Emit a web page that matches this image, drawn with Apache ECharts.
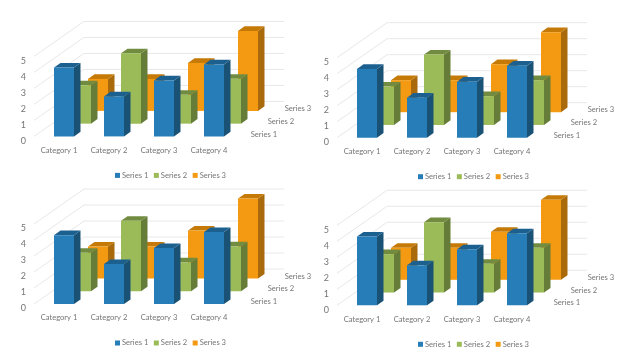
<!DOCTYPE html>
<html>
<head>
<meta charset="utf-8">
<style>
  html, body { margin: 0; padding: 0; background: #fff; }
  #main { width: 640px; height: 360px; }
</style>
<script src="https://cdn.jsdelivr.net/npm/echarts@6/dist/echarts.min.js"></script>
</head>
<body>
<div id="main"></div>
<script>
  var categories = ['Category 1', 'Category 2', 'Category 3', 'Category 4'];
  var seriesNames = ['Series 1', 'Series 2', 'Series 3'];
  var series1 = [4.3, 2.5, 3.5, 4.5];
  var series2 = [2.4, 4.4, 1.8, 2.8];
  var series3 = [2, 2, 3, 5];
  var yTicks = [0, 1, 2, 3, 4, 5];

  // front-left floor corner of each of the four charts
  var origins = [[34, 136.4], [337, 137.7], [34, 304], [337, 305.3]];

  var FONT = 'Lato, "Open Sans", sans-serif';
  var FONT_SIZE = 7.6;
  var TEXT = '#757575';
  var GRID_LINE = '#e8e8e8';
  var BAND = 50, PLOT_H = 80;
  var STEP_X = 17, STEP_Y = 12.75;   // shift from one series row to the next
  var BAR_W = 20, DEPTH_X = 6.5, DEPTH_Y = 4.6;
  var WALL_X = 50, WALL_Y = 35;

  var faces = [
    { front: '#267db7', side: '#1a5276', top: '#1c6090' },
    { front: '#9bbb59', side: '#667d3a', top: '#718c41' },
    { front: '#f39a12', side: '#a86a0a', top: '#c57a08' }
  ];

  function barRenderer(row) {
    return function (params, api) {
      var top = api.coord([api.value(0), api.value(1)]);
      var base = api.coord([api.value(0), 0]);
      var x = top[0] - 5 + row * STEP_X;
      var y1 = top[1] - row * STEP_Y;
      var y0 = base[1] - row * STEP_Y;
      var c = faces[row];
      return {
        type: 'group',
        children: [
          { type: 'polygon', shape: { points: [[x + BAR_W, y1], [x + BAR_W + DEPTH_X, y1 - DEPTH_Y], [x + BAR_W + DEPTH_X, y0 - DEPTH_Y], [x + BAR_W, y0]] }, style: { fill: c.side } },
          { type: 'polygon', shape: { points: [[x, y1], [x + DEPTH_X, y1 - DEPTH_Y], [x + BAR_W + DEPTH_X, y1 - DEPTH_Y], [x + BAR_W, y1]] }, style: { fill: c.top } },
          { type: 'rect', shape: { x: x, y: y1, width: BAR_W, height: y0 - y1 }, style: { fill: c.front } }
        ]
      };
    };
  }

  // left wall + back wall lines
  function wallRenderer(params, api) {
    var p = api.coord([0, api.value(1)]);
    var x = p[0] - BAND / 2;
    return {
      type: 'polyline',
      shape: { points: [[x, p[1]], [x + WALL_X, p[1] - WALL_Y], [x + WALL_X + BAND * 4, p[1] - WALL_Y]] },
      style: { fill: null, stroke: GRID_LINE, lineWidth: 1 }
    };
  }

  // names along the depth axis
  function depthLabelRenderer(params, api) {
    var row = params.dataIndex;
    var p = api.coord([categories.length - 1, 0]);
    return {
      type: 'text',
      x: p[0] + 41.7 + row * STEP_X,
      y: p[1] - 2.3 - row * STEP_Y,
      style: { text: seriesNames[row], fill: TEXT, font: FONT_SIZE + 'px ' + FONT, verticalAlign: 'middle' }
    };
  }

  var rows = [series1, series2, series3];
  var grid = [], xAxis = [], yAxis = [], legend = [], series = [];

  origins.forEach(function (o, k) {
    grid.push({ left: o[0], top: o[1] - PLOT_H, width: BAND * 4, height: PLOT_H });
    xAxis.push({
      gridIndex: k, type: 'category', data: categories,
      axisLine: { show: false }, axisTick: { show: false },
      axisLabel: { interval: 0, margin: 10, color: TEXT, fontFamily: FONT, fontSize: FONT_SIZE }
    });
    yAxis.push({
      gridIndex: k, type: 'value', min: 0, max: 5, interval: 1,
      splitLine: { show: false }, axisLine: { show: false }, axisTick: { show: false },
      axisLabel: { margin: 8, color: TEXT, fontFamily: FONT, fontSize: 9, verticalAlign: 'top', lineHeight: 9 }
    });
    legend.push({
      data: seriesNames, left: o[0] + 81, top: o[1] + 35,
      padding: 0, icon: 'rect', itemWidth: 5, itemHeight: 5, itemGap: 5.5,
      selectedMode: false,
      textStyle: { color: TEXT, fontFamily: FONT, fontSize: FONT_SIZE, padding: [0, 0, 0, -3] }
    });

    series.push({
      type: 'custom', name: 'walls', silent: true, xAxisIndex: k, yAxisIndex: k, z: 1,
      renderItem: wallRenderer,
      data: yTicks.map(function (v) { return [0, v]; })
    });
    // back row first so the front row paints over it
    [2, 1, 0].forEach(function (row) {
      series.push({
        type: 'custom', name: seriesNames[row], silent: true, xAxisIndex: k, yAxisIndex: k, z: 5 - row,
        itemStyle: { color: faces[row].front },
        renderItem: barRenderer(row),
        data: rows[row].map(function (v, i) { return [i, v]; })
      });
    });
    series.push({
      type: 'custom', name: 'depth', silent: true, xAxisIndex: k, yAxisIndex: k, z: 6,
      renderItem: depthLabelRenderer,
      data: seriesNames.map(function (n, i) { return [categories.length - 1, 0, n]; })
    });
  });

  var myChart = echarts.init(document.getElementById('main'), null, { renderer: 'canvas' });
  myChart.setOption({
    animation: false,
    backgroundColor: '#fff',
    grid: grid,
    xAxis: xAxis,
    yAxis: yAxis,
    legend: legend,
    series: series
  });
</script>
</body>
</html>
